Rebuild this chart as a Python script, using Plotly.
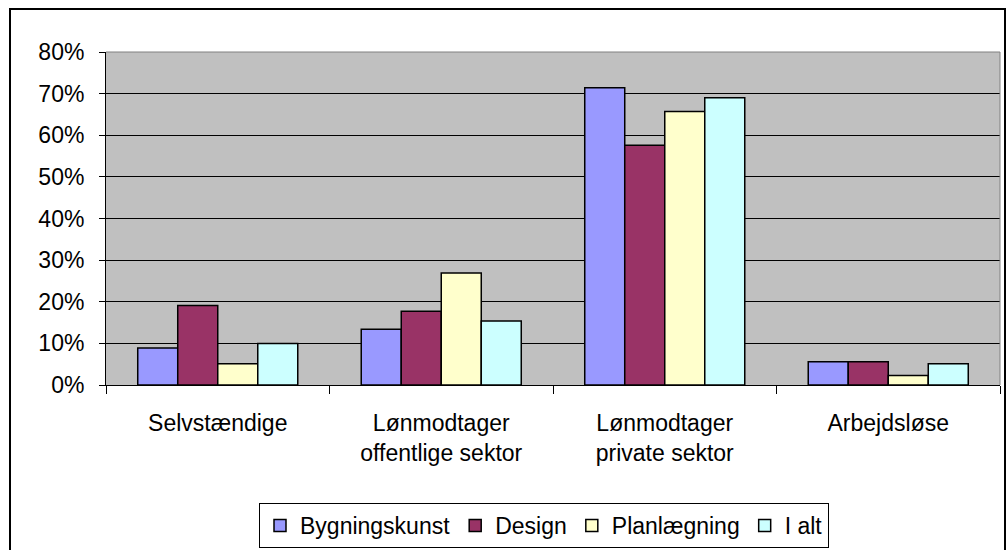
import plotly.graph_objects as go

categories = ["Selvstændige", "Lønmodtager<br>offentlige sektor", "Lønmodtager<br>private sektor", "Arbejdsløse"]
series_names = ["Bygningskunst", "Design", "Planlægning", "I alt"]
bygningskunst = [0.089, 0.134, 0.714, 0.056]
design = [0.191, 0.177, 0.576, 0.056]
planlaegning = [0.051, 0.269, 0.657, 0.023]
i_alt = [0.100, 0.154, 0.690, 0.051]
y_ticks = [0, 0.1, 0.2, 0.3, 0.4, 0.5, 0.6, 0.7, 0.8]
y_labels = ["0%", "10%", "20%", "30%", "40%", "50%", "60%", "70%", "80%"]

colors = ["#9999FF", "#993366", "#FFFFCC", "#CCFFFF"]
values = [bygningskunst, design, planlaegning, i_alt]

fig = go.Figure()
for name, vals, col in zip(series_names, values, colors):
    fig.add_trace(go.Bar(x=categories, y=vals, name=name,
                         marker=dict(color=col, line=dict(color="black", width=1.5))))

L, R, T, B = 106, 1000, 52, 385
W, H = 1008, 550
pw, ph = R - L, B - T

def px(x):
    return (x - L) / pw

def py(y):
    return (B - y) / ph

FS = 23

fig.update_layout(
    width=W, height=H,
    margin=dict(l=L, r=W - R, t=T, b=H - B, pad=0, autoexpand=False),
    paper_bgcolor="white",
    plot_bgcolor="#C0C0C0",
    barmode="group",
    bargap=0.284,
    bargroupgap=0,
    font=dict(family="Liberation Sans, Arial", size=FS, color="black"),
    showlegend=True,
    legend=dict(orientation="h", x=px(544), xanchor="center", y=py(503), yanchor="top",
                bordercolor="black", borderwidth=1, bgcolor="white",
                font=dict(size=FS), traceorder="normal",
                itemwidth=30, tracegroupgap=0),
    xaxis=dict(showline=True, linecolor="black", linewidth=1, ticks="outside",
               tickson="boundaries", ticklen=8, tickcolor="black",
               ticklabelstandoff=17, automargin=False,
               showgrid=False, tickfont=dict(size=FS)),
    yaxis=dict(range=[0, 0.8], tickvals=y_ticks, ticktext=y_labels,
               showline=True, linecolor="black", linewidth=1, ticks="outside",
               ticklen=6, tickcolor="black", showgrid=True, gridcolor="black",
               ticklabelstandoff=10, automargin=False,
               gridwidth=1, zeroline=False, tickfont=dict(size=FS)),
    shapes=[
        dict(type="rect", xref="paper", yref="paper", x0=px(10), x1=px(1005),
             y0=py(560), y1=py(9), line=dict(color="black", width=2), layer="below"),
        dict(type="line", xref="paper", yref="paper", x0=0, x1=1, y0=1, y1=1,
             line=dict(color="#808080", width=1)),
        dict(type="line", xref="paper", yref="paper", x0=1, x1=1, y0=0, y1=1,
             line=dict(color="#808080", width=1)),
    ],
)

fig.write_html("out.html", config={"displayModeBar": False},
               post_script="document.body.style.margin='0';")
